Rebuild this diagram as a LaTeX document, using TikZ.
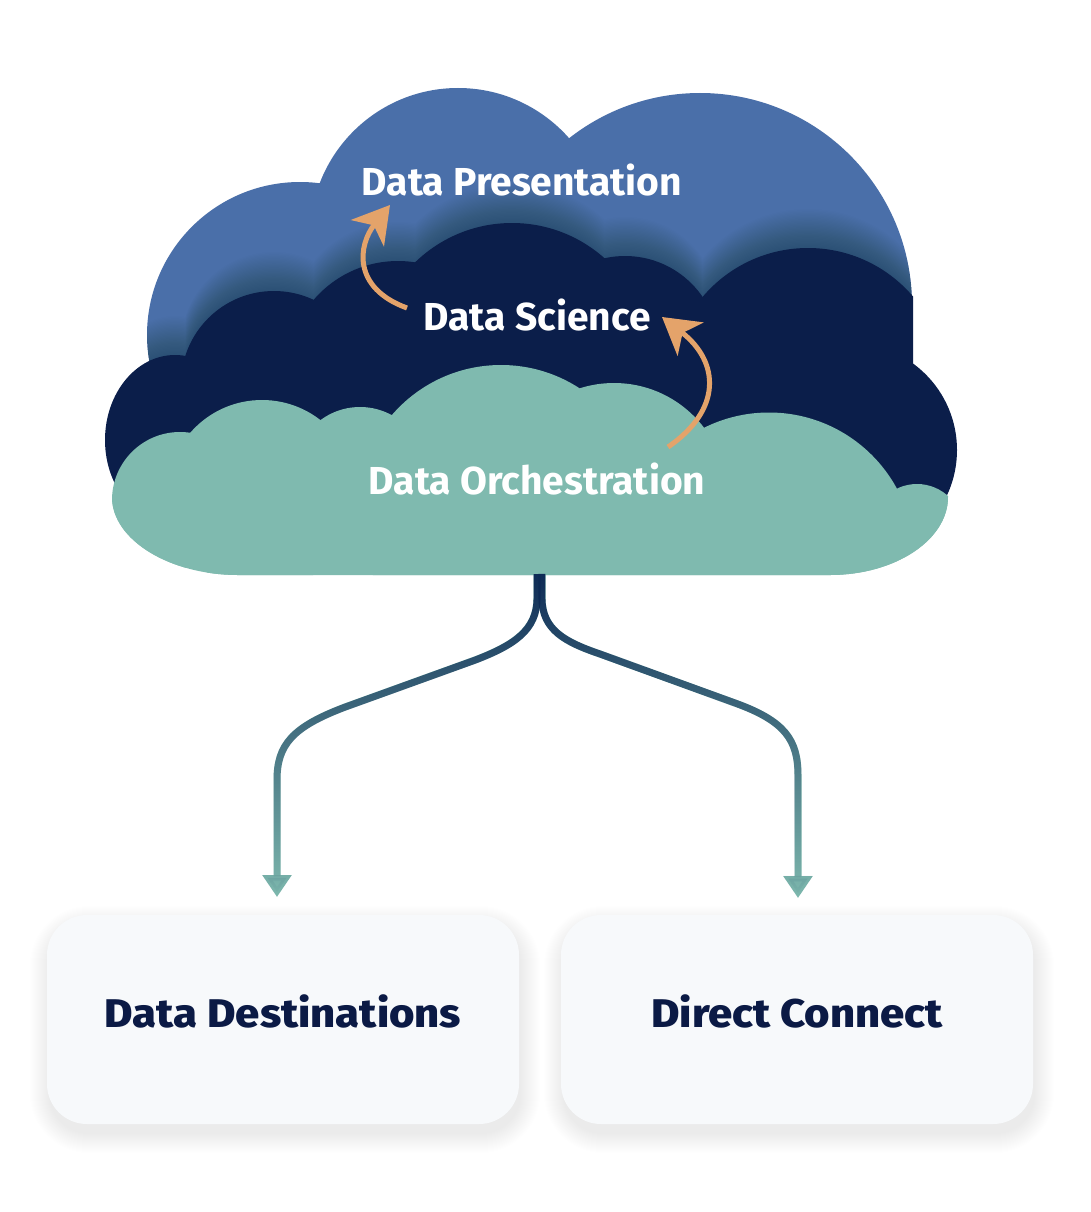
\documentclass[tikz,border=0pt]{standalone}
\usepackage{fontspec}
\setmainfont{Fira Sans}
\IfFontExistsTF{Fira Sans ExtraBold}
  {\newfontfamily\heavyfont{Fira Sans ExtraBold}[FakeStretch=1.09]}
  {\newfontfamily\heavyfont{Fira Sans}[FakeBold=1.2,FakeStretch=1.09]}
\usetikzlibrary{arrows.meta,fadings}
\definecolor{cblue}{HTML}{4A6FA9}
\definecolor{cnavy}{HTML}{0B1E4A}
\definecolor{cteal}{HTML}{7FBAAF}
\definecolor{corange}{HTML}{E4A36A}
\definecolor{cbox}{HTML}{F7F9FB}
\definecolor{ctext}{HTML}{0B1A45}
\definecolor{cline}{HTML}{0D2A55}
\tikzfading[name=fadedown, top color=transparent!0, bottom color=transparent!100]
\def\bluecircles{(300,335) circle[radius=153pt] (458,236) circle[radius=148pt] (700,305) circle[radius=212pt]}
\def\darkcircles{(175,440) ellipse[x radius=70pt, y radius=85pt] (274,384) circle[radius=93pt] (398,372) circle[radius=111pt] (512,362) circle[radius=139pt] (625,350) circle[radius=94pt] (850,450) circle[radius=107pt]}
\def\tealcircles{(180,500) circle[radius=68pt] (262,495) circle[radius=95pt] (360,473) circle[radius=66pt] (501,509) circle[radius=144pt] (614,496) circle[radius=113pt] (769,558) circle[radius=145.5pt] (917,530) circle[radius=46pt]}
\begin{document}
\begin{tikzpicture}[x=1pt,y=-1pt,
  lbl/.style={font=\fontsize{39}{41}\selectfont\bfseries, text=white, inner sep=0pt},
  box/.style={fill=cbox, rounded corners=40pt, minimum width=472pt, minimum height=209pt, inner sep=0pt,
              font=\fontsize{40}{42}\selectfont\heavyfont, text=ctext},
  orangearrow/.style={draw=corange, line width=5pt, -{Stealth[length=36pt,width=42pt,inset=10pt]}},
  flowteal/.style={draw=cteal, line width=7pt, -{Triangle[length=22pt,width=28pt]}},
  flownavy/.style={draw=cline, line width=7pt, -{Triangle[length=22pt,width=28pt]}, path fading=fadedown},
  boxshadow/.style={fill=black, opacity=0.0055}
]
\useasboundingbox (0,0) rectangle (1090,1212);
\fill[white] (0,0) rectangle (1090,1212);

% ---- back layer (blue)
\fill[cblue] \bluecircles;
\begin{scope}
  \clip \bluecircles;
  \foreach \i in {1,...,30}{
    \fill[black, opacity=0.009, yshift=\i*1.3pt] \darkcircles (808,386) circle[radius=138pt];
  }
\end{scope}

% ---- middle layer (navy)
\fill[cnavy] \darkcircles;
\fill[cnavy] (160,380) rectangle (900,520);
\begin{scope}
  \clip (0,0) rectangle (913,1212);
  \fill[cnavy] (808,386) circle[radius=138pt];
\end{scope}

% ---- front layer (teal)
\begin{scope}
  \clip (112,300) -- (112,497) .. controls (112,540) and (170,575) .. (238,575) -- (830,575)
        .. controls (895,575) and (948,540) .. (948,497) -- (948,300) -- cycle;
  \fill[cteal] \tealcircles;
  \fill[cteal] (100,500) rectangle (960,590);
\end{scope}

% ---- labels in the cloud
\node[lbl] (pres) at (522,180) {Data Presentation};
\node[lbl] (sci) at (537,315) {Data Science};
\node[lbl] (orch) at (537,479) {Data Orchestration};

% ---- orange arrows
\coordinate (a1s) at (407,308);
\coordinate (a1e) at (390,205);
\coordinate (a2s) at (668,447);
\coordinate (a2e) at (662,317);
\draw[orangearrow] (a1s) .. controls (352,288) and (358,245) .. (a1e);
\draw[orangearrow] (a2s) .. controls (722,410) and (720,362) .. (a2e);

% ---- boxes
\foreach \i in {0,...,19}{
  \fill[boxshadow, rounded corners=40pt+\i pt] (49-\i,925-\i) rectangle (521+\i,1134+\i);
  \fill[boxshadow, rounded corners=40pt+\i pt] (563-\i,925-\i) rectangle (1035+\i,1134+\i);
}
\node[box] (dd) at (283,1019.5) {\raisebox{-7.8pt}[0pt][0pt]{Data Destinations}};
\node[box] (dc) at (797,1019.5) {\raisebox{-7.8pt}[0pt][0pt]{Direct Connect}};

% ---- connectors
\coordinate (cbl) at (537,574);
\coordinate (cbr) at (542,574);
\coordinate (ddin) at (277,897);
\coordinate (dcin) at (798,898);
\foreach \s in {flowteal,flownavy}{
  \draw[\s] (cbl) -- (537,598) .. controls (537,630) and (514,645) .. (475,660) -- (345,707)
        .. controls (292,727) and (277,745) .. (277,780) -- (ddin);
  \draw[\s] (cbr) -- (542,598) .. controls (542,630) and (565,642) .. (600,654) -- (735,703)
        .. controls (785,721) and (798,740) .. (798,775) -- (dcin);
}
\end{tikzpicture}
\end{document}
